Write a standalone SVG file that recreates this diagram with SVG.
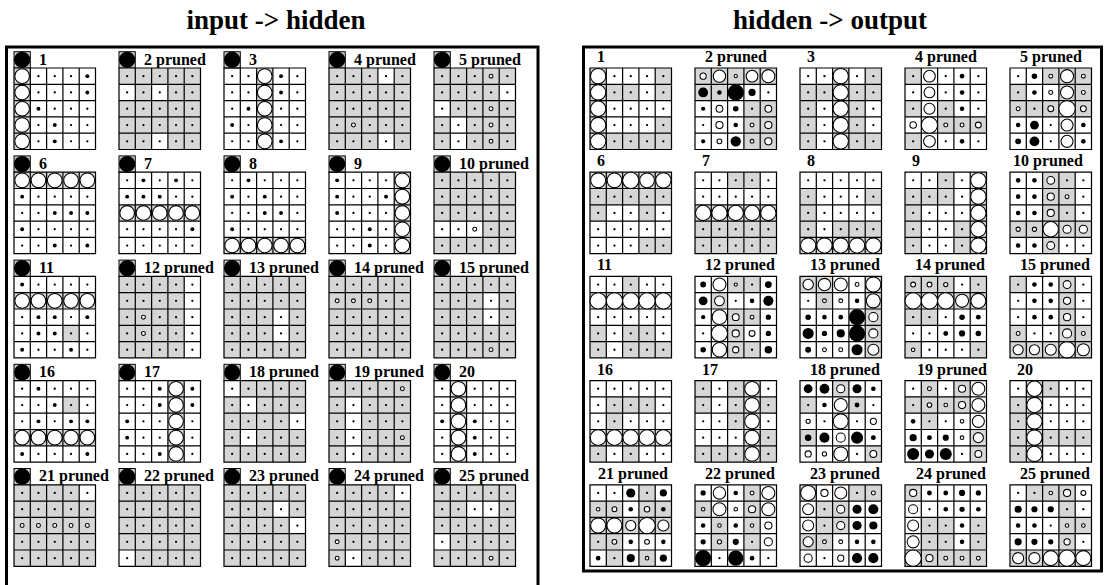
<svg xmlns="http://www.w3.org/2000/svg" xmlns:xlink="http://www.w3.org/1999/xlink" width="1104" height="585" viewBox="0 0 1104 585">
<style>
.g{fill:#d6d6d6}
.w{fill:#fff}
.o{fill:#fff;stroke:#000;stroke-width:.065}
.lb{font-family:"Liberation Serif",serif;font-weight:bold;font-size:16px}
.tt{font-family:"Liberation Serif",serif;font-weight:bold;font-size:27px;text-anchor:middle}
.fr{fill:none;stroke:#000;stroke-width:3}
.bx{fill:#ccc;stroke:#000;stroke-width:.06}
</style>
<defs>
<g id="dots">
<circle cx=".5" cy=".5" r=".07"/><circle cx="1.5" cy=".5" r=".07"/><circle cx="2.5" cy=".5" r=".07"/><circle cx="3.5" cy=".5" r=".07"/><circle cx="4.5" cy=".5" r=".07"/>
<circle cx=".5" cy="1.5" r=".07"/><circle cx="1.5" cy="1.5" r=".07"/><circle cx="2.5" cy="1.5" r=".07"/><circle cx="3.5" cy="1.5" r=".07"/><circle cx="4.5" cy="1.5" r=".07"/>
<circle cx=".5" cy="2.5" r=".07"/><circle cx="1.5" cy="2.5" r=".07"/><circle cx="2.5" cy="2.5" r=".07"/><circle cx="3.5" cy="2.5" r=".07"/><circle cx="4.5" cy="2.5" r=".07"/>
<circle cx=".5" cy="3.5" r=".07"/><circle cx="1.5" cy="3.5" r=".07"/><circle cx="2.5" cy="3.5" r=".07"/><circle cx="3.5" cy="3.5" r=".07"/><circle cx="4.5" cy="3.5" r=".07"/>
<circle cx=".5" cy="4.5" r=".07"/><circle cx="1.5" cy="4.5" r=".07"/><circle cx="2.5" cy="4.5" r=".07"/><circle cx="3.5" cy="4.5" r=".07"/><circle cx="4.5" cy="4.5" r=".07"/>
</g>
<path id="ln" fill="none" stroke="#000" stroke-width=".075" d="M0 0H5V5H0ZM1 0V5M2 0V5M3 0V5M4 0V5M0 1H5M0 2H5M0 3H5M0 4H5"/>
<g id="bias"><rect class="bx" y="-1" width="1" height="1"/><circle cx=".5" cy="-.5" r=".5"/></g>
</defs>
<rect width="1104" height="585" fill="#fff"/>
<text class="tt" x="276" y="29">input -&gt; hidden</text>
<text class="tt" x="830" y="29">hidden -&gt; output</text>
<rect class="fr" x="6.5" y="47" width="531.5" height="545"/>
<rect class="fr" x="583.5" y="47" width="518" height="524"/>

<!-- LEFT PANEL -->
<g id="L1"><text class="lb" x="39" y="64.5">1</text><g transform="translate(14 68) scale(16.3)"><use href="#bias"/><path class="g" d="M0 0h1v5h-1z"/><use href="#dots"/><use href="#ln"/>
<circle class="o" cx=".5" cy=".5" r=".45"/><circle class="o" cx=".5" cy="1.5" r=".45"/><circle class="o" cx=".5" cy="2.5" r=".45"/><circle class="o" cx=".5" cy="3.5" r=".45"/><circle class="o" cx=".5" cy="4.5" r=".45"/>
<circle cx="4.5" cy=".5" r=".12"/><circle cx="4.5" cy="1.5" r=".12"/><circle cx="1.5" cy="2.5" r=".12"/><circle cx="2.5" cy="3.5" r=".12"/><circle cx="2.5" cy="4.5" r=".12"/></g></g>

<g id="L2"><text class="lb" x="144" y="64.5">2 pruned</text><g transform="translate(119 68) scale(16.3)"><use href="#bias"/><rect class="g" width="5" height="5"/><path class="w" d="M0 1h1v1h-1zM2 1h1v1h-1zM2 4h1v1h-1z"/><use href="#dots"/><use href="#ln"/></g></g>

<g id="L3"><text class="lb" x="249" y="64.5">3</text><g transform="translate(224 68) scale(16.3)"><use href="#bias"/><path class="g" d="M2 0h1v5h-1z"/><use href="#dots"/><use href="#ln"/>
<circle class="o" cx="2.5" cy=".5" r=".45"/><circle class="o" cx="2.5" cy="1.5" r=".45"/><circle class="o" cx="2.5" cy="2.5" r=".45"/><circle class="o" cx="2.5" cy="3.5" r=".45"/><circle class="o" cx="2.5" cy="4.5" r=".45"/>
<circle cx="3.5" cy=".5" r=".12"/><circle cx="3.5" cy="1.5" r=".12"/><circle cx="1.5" cy="2.5" r=".12"/><circle cx=".5" cy="3.5" r=".12"/><circle cx="3.5" cy="4.5" r=".12"/></g></g>

<g id="L4"><text class="lb" x="354" y="64.5">4 pruned</text><g transform="translate(329 68) scale(16.3)"><use href="#bias"/><rect class="g" width="5" height="5"/><path class="w" d="M3 0h1v1h-1zM3 4h1v1h-1z"/><use href="#dots"/><use href="#ln"/>
<circle class="o" cx="1.5" cy="3.5" r=".12"/></g></g>

<g id="L5"><text class="lb" x="459" y="64.5">5 pruned</text><g transform="translate(434 68) scale(16.3)"><use href="#bias"/><rect class="g" width="5" height="5"/><path class="w" d="M4 1h1v1h-1zM0 2h1v1h-1zM1 3h1v2h-1z"/><use href="#dots"/><use href="#ln"/>
<circle class="o" cx="3.5" cy=".5" r=".12"/><circle class="o" cx="3.5" cy="2.5" r=".12"/><circle class="o" cx="3.5" cy="3.5" r=".12"/><circle class="o" cx="3.5" cy="4.5" r=".12"/></g></g>

<g id="L6"><text class="lb" x="39" y="168.7">6</text><g transform="translate(14 172.2) scale(16.3)"><use href="#bias"/><path class="g" d="M0 0h5v1h-5z"/><use href="#dots"/><use href="#ln"/>
<circle class="o" cx=".5" cy=".5" r=".45"/><circle class="o" cx="1.5" cy=".5" r=".45"/><circle class="o" cx="2.5" cy=".5" r=".45"/><circle class="o" cx="3.5" cy=".5" r=".45"/><circle class="o" cx="4.5" cy=".5" r=".45"/>
<circle cx=".5" cy="1.5" r=".12"/><circle cx="2.5" cy="2.5" r=".12"/><circle cx="3.5" cy="2.5" r=".12"/><circle cx="4.5" cy="2.5" r=".12"/><circle cx=".5" cy="3.5" r=".12"/><circle cx="2.5" cy="4.5" r=".12"/><circle cx="4.5" cy="4.5" r=".12"/></g></g>

<g id="L7"><text class="lb" x="144" y="168.7">7</text><g transform="translate(119 172.2) scale(16.3)"><use href="#bias"/><path class="g" d="M0 2h5v1h-5z"/><use href="#dots"/><use href="#ln"/>
<circle class="o" cx=".5" cy="2.5" r=".45"/><circle class="o" cx="1.5" cy="2.5" r=".45"/><circle class="o" cx="2.5" cy="2.5" r=".45"/><circle class="o" cx="3.5" cy="2.5" r=".45"/><circle class="o" cx="4.5" cy="2.5" r=".45"/>
<circle cx="1.5" cy=".5" r=".12"/><circle cx="3.5" cy=".5" r=".12"/><circle cx=".5" cy="1.5" r=".12"/><circle cx="1.5" cy="1.5" r=".12"/><circle cx="2.5" cy="1.5" r=".12"/><circle cx="4.5" cy="3.5" r=".12"/></g></g>

<g id="L8"><text class="lb" x="249" y="168.7">8</text><g transform="translate(224 172.2) scale(16.3)"><use href="#bias"/><path class="g" d="M0 4h5v1h-5z"/><use href="#dots"/><use href="#ln"/>
<circle class="o" cx=".5" cy="4.5" r=".45"/><circle class="o" cx="1.5" cy="4.5" r=".45"/><circle class="o" cx="2.5" cy="4.5" r=".45"/><circle class="o" cx="3.5" cy="4.5" r=".45"/><circle class="o" cx="4.5" cy="4.5" r=".45"/>
<circle cx="1.5" cy=".5" r=".12"/><circle cx=".5" cy="1.5" r=".12"/><circle cx="2.5" cy="1.5" r=".12"/><circle cx="2.5" cy="2.5" r=".12"/><circle cx="3.5" cy="2.5" r=".12"/><circle cx=".5" cy="3.5" r=".12"/></g></g>

<g id="L9"><text class="lb" x="354" y="168.7">9</text><g transform="translate(329 172.2) scale(16.3)"><use href="#bias"/><path class="g" d="M4 0h1v5h-1z"/><use href="#dots"/><use href="#ln"/>
<circle class="o" cx="4.5" cy=".5" r=".45"/><circle class="o" cx="4.5" cy="1.5" r=".45"/><circle class="o" cx="4.5" cy="2.5" r=".45"/><circle class="o" cx="4.5" cy="3.5" r=".45"/><circle class="o" cx="4.5" cy="4.5" r=".45"/>
<circle cx=".5" cy=".5" r=".12"/><circle cx=".5" cy="1.5" r=".12"/><circle cx="3.5" cy="1.5" r=".12"/><circle cx=".5" cy="2.5" r=".12"/><circle cx="2.5" cy="3.5" r=".12"/><circle cx="2.5" cy="4.5" r=".12"/></g></g>

<g id="L10"><text class="lb" x="459" y="168.7">10 pruned</text><g transform="translate(434 172.2) scale(16.3)"><use href="#bias"/><rect class="g" width="5" height="5"/><path class="w" d="M0 3h3v1h-3z"/><use href="#dots"/><use href="#ln"/>
<circle class="o" cx="2.5" cy="3.5" r=".12"/></g></g>

<g id="L11"><text class="lb" x="39" y="272.9">11</text><g transform="translate(14 276.4) scale(16.3)"><use href="#bias"/><path class="g" d="M0 1h5v1h-5zM3 3h1v1h-1z"/><use href="#dots"/><use href="#ln"/>
<circle class="o" cx=".5" cy="1.5" r=".45"/><circle class="o" cx="1.5" cy="1.5" r=".45"/><circle class="o" cx="2.5" cy="1.5" r=".45"/><circle class="o" cx="3.5" cy="1.5" r=".45"/><circle class="o" cx="4.5" cy="1.5" r=".45"/>
<circle cx=".5" cy=".5" r=".12"/><circle cx="1.5" cy="2.5" r=".12"/><circle cx="2.5" cy="2.5" r=".12"/><circle cx="4.5" cy="2.5" r=".12"/><circle cx="1.5" cy="3.5" r=".12"/><circle cx="2.5" cy="3.5" r=".12"/><circle cx=".5" cy="4.5" r=".12"/><circle cx="3.5" cy="4.5" r=".12"/></g></g>

<g id="L12"><text class="lb" x="144" y="272.9">12 pruned</text><g transform="translate(119 276.4) scale(16.3)"><use href="#bias"/><path class="g" d="M0 0h4v5h-4z"/><use href="#dots"/><use href="#ln"/>
<circle class="o" cx="1.5" cy="2.5" r=".12"/><circle class="o" cx="1.5" cy="3.5" r=".12"/></g></g>

<g id="L13"><text class="lb" x="249" y="272.9">13 pruned</text><g transform="translate(224 276.4) scale(16.3)"><use href="#bias"/><rect class="g" width="5" height="5"/><path class="w" d="M3 2h1v2h-1z"/><use href="#dots"/><use href="#ln"/></g></g>

<g id="L14"><text class="lb" x="354" y="272.9">14 pruned</text><g transform="translate(329 276.4) scale(16.3)"><use href="#bias"/><rect class="g" width="5" height="5"/><use href="#dots"/><use href="#ln"/>
<circle class="o" cx=".5" cy="1.5" r=".12"/><circle class="o" cx="1.5" cy="1.5" r=".12"/><circle class="o" cx="2.5" cy="1.5" r=".12"/></g></g>

<g id="L15"><text class="lb" x="459" y="272.9">15 pruned</text><g transform="translate(434 276.4) scale(16.3)"><use href="#bias"/><rect class="g" width="5" height="5"/><path class="w" d="M3 1h1v2h-1z"/><use href="#dots"/><use href="#ln"/>
<circle class="o" cx="3.5" cy="4.5" r=".12"/></g></g>

<g id="L16"><text class="lb" x="39" y="377.1">16</text><g transform="translate(14 380.6) scale(16.3)"><use href="#bias"/><path class="g" d="M0 3h5v1h-5zM3 1h1v1h-1z"/><use href="#dots"/><use href="#ln"/>
<circle class="o" cx=".5" cy="3.5" r=".45"/><circle class="o" cx="1.5" cy="3.5" r=".45"/><circle class="o" cx="2.5" cy="3.5" r=".45"/><circle class="o" cx="3.5" cy="3.5" r=".45"/><circle class="o" cx="4.5" cy="3.5" r=".45"/>
<circle cx="1.5" cy=".5" r=".12"/><circle cx="2.5" cy="1.5" r=".12"/><circle cx="1.5" cy="2.5" r=".12"/><circle cx="3.5" cy="2.5" r=".12"/><circle cx="4.5" cy="2.5" r=".12"/><circle cx=".5" cy="4.5" r=".12"/><circle cx="4.5" cy="4.5" r=".12"/></g></g>

<g id="L17"><text class="lb" x="144" y="377.1">17</text><g transform="translate(119 380.6) scale(16.3)"><use href="#bias"/><path class="g" d="M3 0h1v5h-1z"/><use href="#dots"/><use href="#ln"/>
<circle class="o" cx="3.5" cy=".5" r=".45"/><circle class="o" cx="3.5" cy="1.5" r=".45"/><circle class="o" cx="3.5" cy="2.5" r=".45"/><circle class="o" cx="3.5" cy="3.5" r=".45"/><circle class="o" cx="3.5" cy="4.5" r=".45"/>
<circle cx="2.5" cy=".5" r=".12"/><circle cx="4.5" cy=".5" r=".12"/><circle cx="2.5" cy="1.5" r=".12"/><circle cx="4.5" cy="1.5" r=".12"/><circle cx=".5" cy="2.5" r=".12"/><circle cx=".5" cy="3.5" r=".12"/><circle cx="2.5" cy="4.5" r=".12"/></g></g>

<g id="L18"><text class="lb" x="249" y="377.1">18 pruned</text><g transform="translate(224 380.6) scale(16.3)"><use href="#bias"/><rect class="g" width="5" height="5"/><path class="w" d="M0 0h1v1h-1zM1 1h1v1h-1zM1 3h1v1h-1zM4 2h1v1h-1z"/><use href="#dots"/><use href="#ln"/></g></g>

<g id="L19"><text class="lb" x="354" y="377.1">19 pruned</text><g transform="translate(329 380.6) scale(16.3)"><use href="#bias"/><rect class="g" width="5" height="5"/><path class="w" d="M1 1h1v4h-1z"/><use href="#dots"/><use href="#ln"/>
<circle class="o" cx="4.5" cy=".5" r=".12"/><circle class="o" cx="4.5" cy="3.5" r=".12"/></g></g>

<g id="L20"><text class="lb" x="459" y="377.1">20</text><g transform="translate(434 380.6) scale(16.3)"><use href="#bias"/><path class="g" d="M1 0h1v5h-1z"/><use href="#dots"/><use href="#ln"/>
<circle class="o" cx="1.5" cy=".5" r=".45"/><circle class="o" cx="1.5" cy="1.5" r=".45"/><circle class="o" cx="1.5" cy="2.5" r=".45"/><circle class="o" cx="1.5" cy="3.5" r=".45"/><circle class="o" cx="1.5" cy="4.5" r=".45"/>
<circle cx=".5" cy="2.5" r=".12"/><circle cx="2.5" cy="2.5" r=".12"/><circle cx="2.5" cy="3.5" r=".12"/><circle cx="2.5" cy="4.5" r=".12"/></g></g>

<g id="L21"><text class="lb" x="39" y="481.3">21 pruned</text><g transform="translate(14 484.8) scale(16.3)"><use href="#bias"/><rect class="g" width="5" height="5"/><path class="w" d="M4 0h1v1h-1z"/><use href="#dots"/><use href="#ln"/>
<circle class="o" cx=".5" cy="2.5" r=".12"/><circle class="o" cx="1.5" cy="2.5" r=".12"/><circle class="o" cx="2.5" cy="2.5" r=".12"/><circle class="o" cx="3.5" cy="2.5" r=".12"/><circle class="o" cx="4.5" cy="2.5" r=".12"/></g></g>

<g id="L22"><text class="lb" x="144" y="481.3">22 pruned</text><g transform="translate(119 484.8) scale(16.3)"><use href="#bias"/><rect class="g" width="5" height="5"/><path class="w" d="M0 4h1v1h-1z"/><use href="#dots"/><use href="#ln"/></g></g>

<g id="L23"><text class="lb" x="249" y="481.3">23 pruned</text><g transform="translate(224 484.8) scale(16.3)"><use href="#bias"/><rect class="g" width="5" height="5"/><path class="w" d="M3 1h1v1h-1zM4 2h1v1h-1z"/><use href="#dots"/><use href="#ln"/></g></g>

<g id="L24"><text class="lb" x="354" y="481.3">24 pruned</text><g transform="translate(329 484.8) scale(16.3)"><use href="#bias"/><rect class="g" width="5" height="5"/><path class="w" d="M4 0h1v1h-1zM1 4h1v1h-1z"/><use href="#dots"/><use href="#ln"/>
<circle class="o" cx=".5" cy="3.5" r=".12"/><circle class="o" cx=".5" cy="4.5" r=".12"/></g></g>

<g id="L25"><text class="lb" x="459" y="481.3">25 pruned</text><g transform="translate(434 484.8) scale(16.3)"><use href="#bias"/><rect class="g" width="5" height="5"/><path class="w" d="M2 1h2v1h-2zM0 3h1v1h-1z"/><use href="#dots"/><use href="#ln"/>
<circle class="o" cx="3.5" cy="4.5" r=".12"/></g></g>

<!-- RIGHT PANEL -->
<g id="R1"><text class="lb" x="597" y="62">1</text><g transform="translate(590 68) scale(16.3)"><path class="g" d="M0 0h1v5h-1zM4 0h1v2h-1zM1 1h2v1h-2zM4 3h1v2h-1zM1 4h3v1h-3z"/><use href="#dots"/><use href="#ln"/>
<circle class="o" cx=".5" cy=".5" r=".47"/><circle class="o" cx=".5" cy="1.5" r=".47"/><circle class="o" cx=".5" cy="2.5" r=".47"/><circle class="o" cx=".5" cy="3.5" r=".47"/><circle class="o" cx=".5" cy="4.5" r=".47"/></g></g>

<g id="R2"><text class="lb" x="705" y="62">2 pruned</text><g transform="translate(695 68) scale(16.3)"><path class="g" d="M0 0h5v1h-5zM0 1h2v1h-2zM3 2h2v3h-2z"/><use href="#dots"/><use href="#ln"/>
<circle class="o" cx=".5" cy=".5" r=".19"/><circle class="o" cx="1.5" cy=".5" r=".38"/><circle class="o" cx="2.5" cy=".5" r=".1"/><circle class="o" cx="3.5" cy=".5" r=".36"/><circle class="o" cx="4.5" cy=".5" r=".4"/>
<circle cx=".5" cy="1.5" r=".3"/><circle cx="1.5" cy="1.5" r=".14"/><circle cx="2.5" cy="1.5" r=".5"/><circle cx="3.5" cy="1.5" r=".22"/>
<circle cx=".5" cy="2.5" r=".13"/><circle class="o" cx="1.5" cy="2.5" r=".21"/><circle cx="2.5" cy="2.5" r=".17"/><circle class="o" cx="4.5" cy="2.5" r=".21"/>
<circle class="o" cx="1.5" cy="3.5" r=".22"/><circle cx="2.5" cy="3.5" r=".14"/><circle class="o" cx="3.5" cy="3.5" r=".12"/><circle class="o" cx="4.5" cy="3.5" r=".22"/>
<circle cx=".5" cy="4.5" r=".13"/><circle class="o" cx="1.5" cy="4.5" r=".15"/><circle cx="2.5" cy="4.5" r=".32"/><circle class="o" cx="3.5" cy="4.5" r=".12"/><circle class="o" cx="4.5" cy="4.5" r=".22"/></g></g>

<g id="R3"><text class="lb" x="807" y="62">3</text><g transform="translate(800 68) scale(16.3)"><path class="g" d="M2 0h1v5h-1zM4 0h1v2h-1zM0 1h2v1h-2zM3 1h1v4h-1zM0 2h1v3h-1zM4 4h1v1h-1z"/><use href="#dots"/><use href="#ln"/>
<circle class="o" cx="2.5" cy=".5" r=".47"/><circle class="o" cx="2.5" cy="1.5" r=".47"/><circle class="o" cx="2.5" cy="2.5" r=".47"/><circle class="o" cx="2.5" cy="3.5" r=".47"/><circle class="o" cx="2.5" cy="4.5" r=".47"/></g></g>

<g id="R4"><text class="lb" x="915" y="62">4 pruned</text><g transform="translate(905 68) scale(16.3)"><path class="g" d="M0 0h1v1h-1zM0 2h1v1h-1zM2 2h1v1h-1zM2 3h3v1h-3zM0 4h1v1h-1z"/><use href="#dots"/><use href="#ln"/>
<circle class="o" cx="1.5" cy=".5" r=".36"/><circle class="o" cx="1.5" cy="1.5" r=".33"/><circle class="o" cx="1.5" cy="2.5" r=".34"/><circle class="o" cx="1.5" cy="3.5" r=".5"/><circle class="o" cx="1.5" cy="4.5" r=".36"/>
<circle cx="3.5" cy=".5" r=".14"/><circle cx="3.5" cy="1.5" r=".14"/><circle cx="3.5" cy="2.5" r=".14"/><circle cx="3.5" cy="4.5" r=".14"/>
<circle class="o" cx=".5" cy="3.5" r=".2"/><circle class="o" cx="2.5" cy="3.5" r=".12"/><circle class="o" cx="3.5" cy="3.5" r=".12"/><circle class="o" cx="4.5" cy="3.5" r=".18"/></g></g>

<g id="R5"><text class="lb" x="1020" y="62">5 pruned</text><g transform="translate(1010 68) scale(16.3)"><path class="g" d="M2 0h3v1h-3zM0 1h1v1h-1zM3 1h2v1h-2zM0 2h3v1h-3zM4 2h1v1h-1z"/><use href="#dots"/><use href="#ln"/>
<circle cx="1.5" cy=".5" r=".17"/><circle class="o" cx="2.5" cy=".5" r=".12"/><circle class="o" cx="3.5" cy=".5" r=".4"/><circle class="o" cx="4.5" cy=".5" r=".12"/>
<circle cx="1.5" cy="1.5" r=".14"/><circle class="o" cx="2.5" cy="1.5" r=".12"/><circle class="o" cx="3.5" cy="1.5" r=".4"/><circle class="o" cx="4.5" cy="1.5" r=".12"/>
<circle class="o" cx=".5" cy="2.5" r=".12"/><circle class="o" cx="2.5" cy="2.5" r=".18"/><circle class="o" cx="3.5" cy="2.5" r=".5"/><circle class="o" cx="4.5" cy="2.5" r=".18"/>
<circle cx=".5" cy="3.5" r=".14"/><circle cx="1.5" cy="3.5" r=".27"/><circle class="o" cx="3.5" cy="3.5" r=".37"/><circle cx="4.5" cy="3.5" r=".14"/>
<circle cx=".5" cy="4.5" r=".18"/><circle cx="1.5" cy="4.5" r=".3"/><circle class="o" cx="3.5" cy="4.5" r=".37"/><circle cx="4.5" cy="4.5" r=".14"/></g></g>

<g id="R6"><text class="lb" x="597" y="166.2">6</text><g transform="translate(590 172.2) scale(16.3)"><path class="g" d="M0 0h5v2h-5zM0 2h1v1h-1zM3 2h1v1h-1zM3 4h2v1h-2z"/><use href="#dots"/><use href="#ln"/>
<circle class="o" cx=".5" cy=".5" r=".46"/><circle class="o" cx="1.5" cy=".5" r=".45"/><circle class="o" cx="2.5" cy=".5" r=".5"/><circle class="o" cx="3.5" cy=".5" r=".45"/><circle class="o" cx="4.5" cy=".5" r=".47"/></g></g>

<g id="R7"><text class="lb" x="702" y="166.2">7</text><g transform="translate(695 172.2) scale(16.3)"><path class="g" d="M2 0h2v1h-2zM0 2h5v3h-5z"/><use href="#dots"/><use href="#ln"/>
<circle class="o" cx=".5" cy="2.5" r=".47"/><circle class="o" cx="1.5" cy="2.5" r=".47"/><circle class="o" cx="2.5" cy="2.5" r=".47"/><circle class="o" cx="3.5" cy="2.5" r=".47"/><circle class="o" cx="4.5" cy="2.5" r=".47"/></g></g>

<g id="R8"><text class="lb" x="807" y="166.2">8</text><g transform="translate(800 172.2) scale(16.3)"><path class="g" d="M0 1h1v3h-1zM4 1h1v1h-1zM2 3h3v1h-3zM0 4h5v1h-5z"/><use href="#dots"/><use href="#ln"/>
<circle class="o" cx=".5" cy="4.5" r=".47"/><circle class="o" cx="1.5" cy="4.5" r=".47"/><circle class="o" cx="2.5" cy="4.5" r=".47"/><circle class="o" cx="3.5" cy="4.5" r=".47"/><circle class="o" cx="4.5" cy="4.5" r=".47"/></g></g>

<g id="R9"><text class="lb" x="912" y="166.2">9</text><g transform="translate(905 172.2) scale(16.3)"><path class="g" d="M2 0h1v1h-1zM4 0h1v5h-1zM0 1h3v1h-3zM0 2h1v3h-1zM3 3h1v2h-1z"/><use href="#dots"/><use href="#ln"/>
<circle class="o" cx="4.5" cy=".5" r=".47"/><circle class="o" cx="4.5" cy="1.5" r=".47"/><circle class="o" cx="4.5" cy="2.5" r=".47"/><circle class="o" cx="4.5" cy="3.5" r=".47"/><circle class="o" cx="4.5" cy="4.5" r=".47"/></g></g>

<g id="R10"><text class="lb" x="1013" y="166.2">10 pruned</text><g transform="translate(1010 172.2) scale(16.3)"><path class="g" d="M2 0h2v3h-2zM0 3h5v1h-5zM2 4h1v1h-1z"/><use href="#dots"/><use href="#ln"/>
<circle cx=".5" cy=".5" r=".14"/><circle cx="1.5" cy=".5" r=".14"/><circle cx=".5" cy="1.5" r=".14"/><circle cx="1.5" cy="1.5" r=".14"/><circle cx=".5" cy="2.5" r=".14"/><circle cx="1.5" cy="2.5" r=".14"/><circle cx=".5" cy="4.5" r=".14"/><circle cx="1.5" cy="4.5" r=".14"/>
<circle class="o" cx="2.5" cy=".5" r=".24"/><circle class="o" cx="2.5" cy="1.5" r=".22"/><circle class="o" cx="3.5" cy="1.5" r=".12"/><circle class="o" cx="2.5" cy="2.5" r=".22"/>
<circle class="o" cx=".5" cy="3.5" r=".13"/><circle class="o" cx="1.5" cy="3.5" r=".13"/><circle class="o" cx="2.5" cy="3.5" r=".47"/><circle class="o" cx="3.5" cy="3.5" r=".25"/><circle class="o" cx="4.5" cy="3.5" r=".25"/><circle class="o" cx="2.5" cy="4.5" r=".24"/></g></g>

<g id="R11"><text class="lb" x="597" y="270.4">11</text><g transform="translate(590 276.4) scale(16.3)"><path class="g" d="M2 0h1v1h-1zM0 1h5v1h-5zM0 3h1v1h-1zM2 3h2v1h-2zM0 4h1v1h-1zM2 4h3v1h-3z"/><use href="#dots"/><use href="#ln"/>
<circle class="o" cx=".5" cy="1.5" r=".5"/><circle class="o" cx="1.5" cy="1.5" r=".5"/><circle class="o" cx="2.5" cy="1.5" r=".5"/><circle class="o" cx="3.5" cy="1.5" r=".5"/><circle class="o" cx="4.5" cy="1.5" r=".5"/></g></g>

<g id="R12"><text class="lb" x="705" y="270.4">12 pruned</text><g transform="translate(695 276.4) scale(16.3)"><path class="g" d="M2 0h2v1h-2zM1 1h1v1h-1zM2 2h2v1h-2zM2 3h1v1h-1zM2 4h2v1h-2z"/><use href="#dots"/><use href="#ln"/>
<circle cx=".5" cy=".5" r=".18"/><circle class="o" cx="1.5" cy=".5" r=".4"/><circle class="o" cx="2.5" cy=".5" r=".1"/><circle cx="4.5" cy=".5" r=".21"/>
<circle cx=".5" cy="1.5" r=".27"/><circle class="o" cx="1.5" cy="1.5" r=".3"/><circle cx="3.5" cy="1.5" r=".14"/><circle cx="4.5" cy="1.5" r=".31"/>
<circle cx=".5" cy="2.5" r=".13"/><circle class="o" cx="1.5" cy="2.5" r=".45"/><circle class="o" cx="2.5" cy="2.5" r=".21"/><circle class="o" cx="3.5" cy="2.5" r=".12"/><circle cx="4.5" cy="2.5" r=".16"/>
<circle class="o" cx="1.5" cy="3.5" r=".5"/><circle class="o" cx="2.5" cy="3.5" r=".22"/><circle class="o" cx="3.5" cy="3.5" r=".18"/><circle cx="4.5" cy="3.5" r=".16"/>
<circle cx=".5" cy="4.5" r=".17"/><circle class="o" cx="1.5" cy="4.5" r=".44"/><circle class="o" cx="2.5" cy="4.5" r=".19"/><circle cx="4.5" cy="4.5" r=".23"/></g></g>

<g id="R13"><text class="lb" x="810" y="270.4">13 pruned</text><g transform="translate(800 276.4) scale(16.3)"><path class="g" d="M0 0h2v1h-2zM4 0h1v5h-1zM1 1h1v1h-1z"/><use href="#dots"/><use href="#ln"/>
<circle class="o" cx=".5" cy=".5" r=".32"/><circle class="o" cx="1.5" cy=".5" r=".38"/><circle class="o" cx="2.5" cy=".5" r=".4"/><circle class="o" cx="3.5" cy=".5" r=".12"/><circle class="o" cx="4.5" cy=".5" r=".46"/>
<circle class="o" cx="1.5" cy="1.5" r=".12"/><circle class="o" cx="2.5" cy="1.5" r=".12"/><circle cx="3.5" cy="1.5" r=".14"/><circle class="o" cx="4.5" cy="1.5" r=".43"/>
<circle cx=".5" cy="2.5" r=".17"/><circle cx="1.5" cy="2.5" r=".14"/><circle cx="2.5" cy="2.5" r=".14"/><circle cx="3.5" cy="2.5" r=".5"/><circle class="o" cx="4.5" cy="2.5" r=".28"/>
<circle cx=".5" cy="3.5" r=".34"/><circle cx="1.5" cy="3.5" r=".16"/><circle cx="2.5" cy="3.5" r=".25"/><circle cx="3.5" cy="3.5" r=".5"/><circle class="o" cx="4.5" cy="3.5" r=".28"/>
<circle cx=".5" cy="4.5" r=".18"/><circle class="o" cx="1.5" cy="4.5" r=".12"/><circle class="o" cx="2.5" cy="4.5" r=".12"/><circle cx="3.5" cy="4.5" r=".34"/><circle class="o" cx="4.5" cy="4.5" r=".34"/></g></g>

<g id="R14"><text class="lb" x="915" y="270.4">14 pruned</text><g transform="translate(905 276.4) scale(16.3)"><path class="g" d="M0 0h3v1h-3zM4 0h1v1h-1zM0 1h5v1h-5zM0 2h2v1h-2zM0 4h1v1h-1zM4 4h1v1h-1z"/><use href="#dots"/><use href="#ln"/>
<circle class="o" cx=".5" cy=".5" r=".15"/><circle class="o" cx="1.5" cy=".5" r=".15"/><circle class="o" cx="2.5" cy=".5" r=".13"/>
<circle class="o" cx=".5" cy="1.5" r=".5"/><circle class="o" cx="1.5" cy="1.5" r=".5"/><circle class="o" cx="2.5" cy="1.5" r=".5"/><circle class="o" cx="3.5" cy="1.5" r=".4"/><circle class="o" cx="4.5" cy="1.5" r=".46"/>
<circle cx="3.5" cy="2.5" r=".17"/><circle cx="4.5" cy="2.5" r=".15"/><circle cx="2.5" cy="3.5" r=".15"/><circle cx="3.5" cy="3.5" r=".19"/><circle cx="4.5" cy="3.5" r=".17"/><circle class="o" cx=".5" cy="4.5" r=".11"/></g></g>

<g id="R15"><text class="lb" x="1020" y="270.4">15 pruned</text><g transform="translate(1010 276.4) scale(16.3)"><path class="g" d="M0 0h1v1h-1zM3 0h1v5h-1zM0 3h1v1h-1zM4 3h1v1h-1zM0 4h5v1h-5z"/><use href="#dots"/><use href="#ln"/>
<circle cx="1.5" cy=".5" r=".14"/><circle cx="2.5" cy=".5" r=".14"/><circle cx="1.5" cy="1.5" r=".14"/><circle cx="2.5" cy="1.5" r=".14"/><circle cx="1.5" cy="2.5" r=".14"/><circle cx="2.5" cy="2.5" r=".14"/>
<circle class="o" cx="3.5" cy=".5" r=".24"/><circle class="o" cx="3.5" cy="1.5" r=".22"/><circle class="o" cx="3.5" cy="2.5" r=".22"/>
<circle class="o" cx=".5" cy="3.5" r=".12"/><circle class="o" cx="3.5" cy="3.5" r=".28"/><circle class="o" cx="4.5" cy="3.5" r=".12"/>
<circle class="o" cx=".5" cy="4.5" r=".31"/><circle class="o" cx="1.5" cy="4.5" r=".31"/><circle class="o" cx="2.5" cy="4.5" r=".34"/><circle class="o" cx="3.5" cy="4.5" r=".5"/><circle class="o" cx="4.5" cy="4.5" r=".37"/></g></g>

<g id="R16"><text class="lb" x="597" y="374.6">16</text><g transform="translate(590 380.6) scale(16.3)"><path class="g" d="M1 1h3v1h-3zM1 2h1v1h-1zM0 3h5v1h-5zM0 4h1v1h-1zM2 4h1v1h-1z"/><use href="#dots"/><use href="#ln"/>
<circle class="o" cx=".5" cy="3.5" r=".48"/><circle class="o" cx="1.5" cy="3.5" r=".48"/><circle class="o" cx="2.5" cy="3.5" r=".48"/><circle class="o" cx="3.5" cy="3.5" r=".48"/><circle class="o" cx="4.5" cy="3.5" r=".48"/></g></g>

<g id="R17"><text class="lb" x="702" y="374.6">17</text><g transform="translate(695 380.6) scale(16.3)"><path class="g" d="M0 0h1v2h-1zM2 0h2v3h-2zM4 1h1v1h-1zM3 3h2v1h-2zM0 4h5v1h-5z"/><use href="#dots"/><use href="#ln"/>
<circle class="o" cx="3.5" cy=".5" r=".45"/><circle class="o" cx="3.5" cy="1.5" r=".45"/><circle class="o" cx="3.5" cy="2.5" r=".45"/><circle class="o" cx="3.5" cy="3.5" r=".45"/><circle class="o" cx="3.5" cy="4.5" r=".45"/></g></g>

<g id="R18"><text class="lb" x="810" y="374.6">18 pruned</text><g transform="translate(800 380.6) scale(16.3)"><path class="g" d="M2 0h1v1h-1zM0 1h1v1h-1zM3 1h1v1h-1zM2 2h1v1h-1zM0 3h1v1h-1zM4 4h1v1h-1z"/><use href="#dots"/><use href="#ln"/>
<circle cx=".5" cy=".5" r=".27"/><circle cx="1.5" cy=".5" r=".3"/><circle class="o" cx="2.5" cy=".5" r=".25"/><circle cx="3.5" cy=".5" r=".28"/><circle cx="4.5" cy=".5" r=".14"/>
<circle cx="1.5" cy="1.5" r=".14"/><circle class="o" cx="2.5" cy="1.5" r=".4"/><circle cx="3.5" cy="1.5" r=".15"/>
<circle class="o" cx=".5" cy="2.5" r=".13"/><circle class="o" cx="2.5" cy="2.5" r=".46"/><circle class="o" cx="4.5" cy="2.5" r=".19"/>
<circle cx=".5" cy="3.5" r=".2"/><circle cx="1.5" cy="3.5" r=".31"/><circle class="o" cx="2.5" cy="3.5" r=".28"/><circle cx="3.5" cy="3.5" r=".37"/><circle cx="4.5" cy="3.5" r=".15"/>
<circle class="o" cx=".5" cy="4.5" r=".19"/><circle class="o" cx="1.5" cy="4.5" r=".13"/><circle class="o" cx="2.5" cy="4.5" r=".43"/><circle class="o" cx="4.5" cy="4.5" r=".21"/></g></g>

<g id="R19"><text class="lb" x="917" y="374.6">19 pruned</text><g transform="translate(905 380.6) scale(16.3)"><path class="g" d="M1 0h1v1h-1zM3 0h1v2h-1zM0 1h3v1h-3zM1 2h1v1h-1zM4 3h1v2h-1z"/><use href="#dots"/><use href="#ln"/>
<circle class="o" cx="1.5" cy=".5" r=".12"/><circle class="o" cx="3.5" cy=".5" r=".22"/><circle class="o" cx="4.5" cy=".5" r=".4"/>
<circle class="o" cx="1.5" cy="1.5" r=".14"/><circle class="o" cx="2.5" cy="1.5" r=".11"/><circle class="o" cx="3.5" cy="1.5" r=".22"/><circle class="o" cx="4.5" cy="1.5" r=".4"/>
<circle cx=".5" cy="2.5" r=".14"/><circle class="o" cx="3.5" cy="2.5" r=".11"/><circle class="o" cx="4.5" cy="2.5" r=".37"/>
<circle cx=".5" cy="3.5" r=".22"/><circle cx="1.5" cy="3.5" r=".15"/><circle cx="2.5" cy="3.5" r=".19"/><circle class="o" cx="3.5" cy="3.5" r=".11"/><circle class="o" cx="4.5" cy="3.5" r=".31"/>
<circle cx=".5" cy="4.5" r=".37"/><circle cx="1.5" cy="4.5" r=".28"/><circle cx="2.5" cy="4.5" r=".37"/><circle class="o" cx="4.5" cy="4.5" r=".21"/></g></g>

<g id="R20"><text class="lb" x="1017" y="374.6">20</text><g transform="translate(1010 380.6) scale(16.3)"><path class="g" d="M1 0h2v1h-2zM0 1h2v4h-2zM2 3h3v1h-3z"/><use href="#dots"/><use href="#ln"/>
<circle class="o" cx="1.5" cy=".5" r=".47"/><circle class="o" cx="1.5" cy="1.5" r=".47"/><circle class="o" cx="1.5" cy="2.5" r=".47"/><circle class="o" cx="1.5" cy="3.5" r=".47"/><circle class="o" cx="1.5" cy="4.5" r=".47"/></g></g>

<g id="R21"><text class="lb" x="598" y="478.8">21 pruned</text><g transform="translate(590 484.8) scale(16.3)"><path class="g" d="M3 0h1v1h-1zM0 1h2v1h-2zM3 1h2v1h-2zM0 2h5v1h-5zM0 3h2v1h-2zM1 4h1v1h-1zM3 4h1v1h-1z"/><use href="#dots"/><use href="#ln"/>
<circle cx="2.5" cy=".5" r=".28"/><circle cx="4.5" cy=".5" r=".22"/>
<circle class="o" cx=".5" cy="1.5" r=".11"/><circle class="o" cx="1.5" cy="1.5" r=".15"/><circle cx="2.5" cy="1.5" r=".14"/><circle class="o" cx="3.5" cy="1.5" r=".17"/><circle cx="4.5" cy="1.5" r=".14"/>
<circle class="o" cx=".5" cy="2.5" r=".46"/><circle class="o" cx="1.5" cy="2.5" r=".46"/><circle class="o" cx="2.5" cy="2.5" r=".31"/><circle class="o" cx="3.5" cy="2.5" r=".5"/><circle class="o" cx="4.5" cy="2.5" r=".34"/>
<circle class="o" cx="1.5" cy="3.5" r=".15"/><circle cx="2.5" cy="3.5" r=".14"/><circle class="o" cx="3.5" cy="3.5" r=".15"/><circle cx="4.5" cy="3.5" r=".14"/>
<circle cx=".5" cy="4.5" r=".14"/><circle cx="2.5" cy="4.5" r=".25"/><circle class="o" cx="3.5" cy="4.5" r=".11"/><circle cx="4.5" cy="4.5" r=".22"/></g></g>

<g id="R22"><text class="lb" x="705" y="478.8">22 pruned</text><g transform="translate(695 484.8) scale(16.3)"><path class="g" d="M3 0h1v1h-1zM0 1h1v1h-1zM3 1h1v1h-1zM1 2h1v1h-1zM3 2h1v1h-1zM1 3h1v1h-1zM3 3h1v1h-1z"/><use href="#dots"/><use href="#ln"/>
<circle cx=".5" cy=".5" r=".16"/><circle class="o" cx="1.5" cy=".5" r=".38"/><circle cx="2.5" cy=".5" r=".14"/><circle class="o" cx="3.5" cy=".5" r=".12"/><circle class="o" cx="4.5" cy=".5" r=".4"/>
<circle class="o" cx=".5" cy="1.5" r=".11"/><circle class="o" cx="1.5" cy="1.5" r=".4"/><circle class="o" cx="2.5" cy="1.5" r=".11"/><circle class="o" cx="3.5" cy="1.5" r=".22"/><circle class="o" cx="4.5" cy="1.5" r=".4"/>
<circle cx=".5" cy="2.5" r=".14"/><circle class="o" cx="1.5" cy="2.5" r=".11"/><circle cx="2.5" cy="2.5" r=".14"/><circle class="o" cx="3.5" cy="2.5" r=".11"/><circle class="o" cx="4.5" cy="2.5" r=".22"/>
<circle cx=".5" cy="3.5" r=".16"/><circle class="o" cx="1.5" cy="3.5" r=".13"/><circle cx="2.5" cy="3.5" r=".19"/><circle class="o" cx="4.5" cy="3.5" r=".25"/>
<circle cx=".5" cy="4.5" r=".5"/><circle cx="2.5" cy="4.5" r=".47"/><circle cx="3.5" cy="4.5" r=".14"/></g></g>

<g id="R23"><text class="lb" x="810" y="478.8">23 pruned</text><g transform="translate(800 484.8) scale(16.3)"><path class="g" d="M0 0h1v1h-1zM3 0h2v1h-2zM1 1h2v2h-2zM0 3h2v1h-2z"/><use href="#dots"/><use href="#ln"/>
<circle class="o" cx=".5" cy=".5" r=".46"/><circle class="o" cx="1.5" cy=".5" r=".22"/><circle class="o" cx="2.5" cy=".5" r=".37"/><circle class="o" cx="4.5" cy=".5" r=".12"/>
<circle class="o" cx=".5" cy="1.5" r=".34"/><circle class="o" cx="2.5" cy="1.5" r=".25"/><circle cx="3.5" cy="1.5" r=".28"/><circle cx="4.5" cy="1.5" r=".31"/>
<circle class="o" cx=".5" cy="2.5" r=".34"/><circle class="o" cx="2.5" cy="2.5" r=".25"/><circle cx="3.5" cy="2.5" r=".28"/><circle cx="4.5" cy="2.5" r=".25"/>
<circle class="o" cx=".5" cy="3.5" r=".31"/><circle class="o" cx="1.5" cy="3.5" r=".12"/><circle class="o" cx="2.5" cy="3.5" r=".12"/><circle cx="3.5" cy="3.5" r=".14"/><circle cx="4.5" cy="3.5" r=".14"/>
<circle class="o" cx=".5" cy="4.5" r=".25"/><circle class="o" cx="2.5" cy="4.5" r=".19"/><circle cx="3.5" cy="4.5" r=".31"/><circle cx="4.5" cy="4.5" r=".31"/></g></g>

<g id="R24"><text class="lb" x="916" y="478.8">24 pruned</text><g transform="translate(905 484.8) scale(16.3)"><path class="g" d="M0 0h1v1h-1zM1 2h2v2h-2zM4 2h1v2h-1zM0 4h5v1h-5z"/><use href="#dots"/><use href="#ln"/>
<circle class="o" cx=".5" cy=".5" r=".22"/><circle cx="1.5" cy=".5" r=".15"/><circle cx="2.5" cy=".5" r=".15"/><circle cx="3.5" cy=".5" r=".19"/><circle cx="4.5" cy=".5" r=".16"/>
<circle class="o" cx=".5" cy="1.5" r=".28"/><circle cx="2.5" cy="1.5" r=".14"/><circle cx="3.5" cy="1.5" r=".16"/><circle cx="4.5" cy="1.5" r=".14"/>
<circle class="o" cx=".5" cy="2.5" r=".34"/><circle cx="3.5" cy="2.5" r=".14"/>
<circle class="o" cx=".5" cy="3.5" r=".37"/><circle cx="3.5" cy="3.5" r=".14"/>
<circle class="o" cx=".5" cy="4.5" r=".5"/><circle class="o" cx="1.5" cy="4.5" r=".22"/><circle class="o" cx="2.5" cy="4.5" r=".12"/><circle class="o" cx="3.5" cy="4.5" r=".12"/><circle class="o" cx="4.5" cy="4.5" r=".12"/></g></g>

<g id="R25"><text class="lb" x="1020" y="478.8">25 pruned</text><g transform="translate(1010 484.8) scale(16.3)"><path class="g" d="M1 0h3v1h-3zM3 1h1v1h-1zM3 2h2v1h-2zM3 3h1v1h-1zM0 4h5v1h-5z"/><use href="#dots"/><use href="#ln"/>
<circle class="o" cx="2.5" cy=".5" r=".11"/><circle class="o" cx="3.5" cy=".5" r=".22"/><circle class="o" cx="4.5" cy=".5" r=".15"/>
<circle cx=".5" cy="1.5" r=".22"/><circle cx="1.5" cy="1.5" r=".19"/><circle cx="2.5" cy="1.5" r=".19"/>
<circle cx=".5" cy="2.5" r=".14"/><circle cx="1.5" cy="2.5" r=".14"/><circle class="o" cx="3.5" cy="2.5" r=".11"/><circle class="o" cx="4.5" cy="2.5" r=".11"/>
<circle cx=".5" cy="3.5" r=".22"/><circle cx="1.5" cy="3.5" r=".19"/><circle cx="2.5" cy="3.5" r=".16"/><circle class="o" cx="3.5" cy="3.5" r=".19"/>
<circle class="o" cx=".5" cy="4.5" r=".34"/><circle class="o" cx="1.5" cy="4.5" r=".34"/><circle class="o" cx="2.5" cy="4.5" r=".46"/><circle class="o" cx="3.5" cy="4.5" r=".5"/><circle class="o" cx="4.5" cy="4.5" r=".46"/></g></g>
</svg>
